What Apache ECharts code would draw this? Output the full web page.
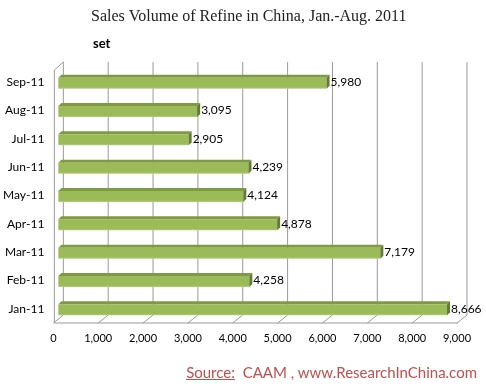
<!DOCTYPE html>
<html><head><meta charset="utf-8">
<script src="https://cdn.jsdelivr.net/npm/echarts@6/dist/echarts.min.js"></script>
<style>html,body{margin:0;padding:0;background:#fff}#c{width:486px;height:387px}</style>
</head><body><div id="c"></div>
<script>
var categories = ['Jan-11','Feb-11','Mar-11','Apr-11','May-11','Jun-11','Jul-11','Aug-11','Sep-11'];
var values = [8666, 4258, 7179, 4878, 4124, 4239, 2905, 3095, 5980];
var tickValues = [0,1000,2000,3000,4000,5000,6000,7000,8000,9000];

function fmt(v){ return String(v).replace(/\B(?=(\d{3})+(?!\d))/g, ','); }

var chart = echarts.init(document.getElementById('c'));
var gridTop = 68, gridBottom = 387 - 323;

chart.setOption({
  animation: false,
  title: [
    {text: 'Sales Volume of Refine in China, Jan.-Aug. 2011', left: 86, top: 4,
     textStyle: {fontFamily: 'Liberation Serif', fontSize: 16, fontWeight: 'normal', color: '#222'}},
    {text: 'set', left: 88, top: 32,
     textStyle: {fontFamily: 'Lato', fontSize: 13, fontWeight: 'bold', color: '#000'}}
  ],
  grid: {left: 57, right: 24, top: gridTop, bottom: gridBottom},
  xAxis: {
    type: 'value', min: 0, max: 9000, interval: 1000,
    axisLine: {show: false}, axisTick: {show: false}, splitLine: {show: false},
    axisLabel: {formatter: function(v){return fmt(v);}, color: '#000', fontFamily: 'Lato', fontSize: 11, margin: 10, padding: [0,10,0,0]}
  },
  yAxis: {
    type: 'category', data: categories,
    axisLine: {show: false}, axisTick: {show: false},
    axisLabel: {color: '#000', fontFamily: 'Lato', fontSize: 12, margin: 14}
  },
  series: [
    {
      type: 'custom', silent: true, z: 1,
      data: tickValues,
      renderItem: function(params, api){
        var v = api.value(0);
        var p = api.coord([v, categories[0]]);
        var x = p[0];
        var rect = params.coordSys;
        var top = 62, bot = 323;
        var children = [{
          type: 'polyline',
          shape: {points: [[x + 5, top], [x + 5, bot - 8], [x - 5, bot]]},
          style: {stroke: '#9a9a9a', lineWidth: 1, fill: null}
        }];
        if (v === 0) {
          children.push({type: 'polyline',
            shape: {points: [[x + 5, top], [x - 4, top + 8], [x - 4, bot]]},
            style: {stroke: '#9a9a9a', lineWidth: 1, fill: null}});
        }
        if (v === 9000) {
          children.push({type: 'line', shape: {x1: rect.x - 4, y1: bot, x2: x - 4, y2: bot},
            style: {stroke: '#9a9a9a', lineWidth: 1}});
        }
        return {type: 'group', children: children};
      }
    },
    {
      type: 'custom', z: 3,
      data: values.map(function(v, i){ return [v, categories[i]]; }),
      encode: {x: 0, y: 1},
      renderItem: function(params, api){
        var end = api.coord([api.value(0), api.value(1)]);
        var start = api.coord([0, api.value(1)]);
        var yc = end[1] + 1;
        var x0 = start[0], x1 = end[0];
        var h = 11, d = 3;
        var yt = yc - h / 2, yb = yc + h / 2;
        return {type: 'group', children: [
          {type: 'polygon', shape: {points: [[x0, yt], [x1, yt], [x1 + d, yt - d], [x0 + d, yt - d]]},
           style: {fill: '#7E9A44'}},
          {type: 'rect', shape: {x: x0, y: yt, width: x1 - x0, height: h},
           style: {fill: new echarts.graphic.LinearGradient(0, 0, 0, 1, [
             {offset: 0, color: '#9BBB59'}, {offset: 0.85, color: '#9BBB59'}, {offset: 1, color: '#B5CE84'}])}},
          {type: 'polygon', shape: {points: [[x1, yt], [x1 + d, yt - d], [x1 + d, yb - d], [x1, yb]]},
           style: {fill: '#627A33'}},
          {type: 'text', style: {text: fmt(api.value(0)), x: x1 + d + 1, y: yc - 1,
            verticalAlign: 'middle', align: 'left', fill: '#000', font: '12px Lato'}}
        ]};
      }
    }
  ]
});
</script>
<div style="position:absolute;right:9px;top:363px;font:15px Lato;color:#C0504D;white-space:pre"><span style="text-decoration:underline">Source:</span>  CAAM , www.ResearchInChina.com</div>
</body></html>
